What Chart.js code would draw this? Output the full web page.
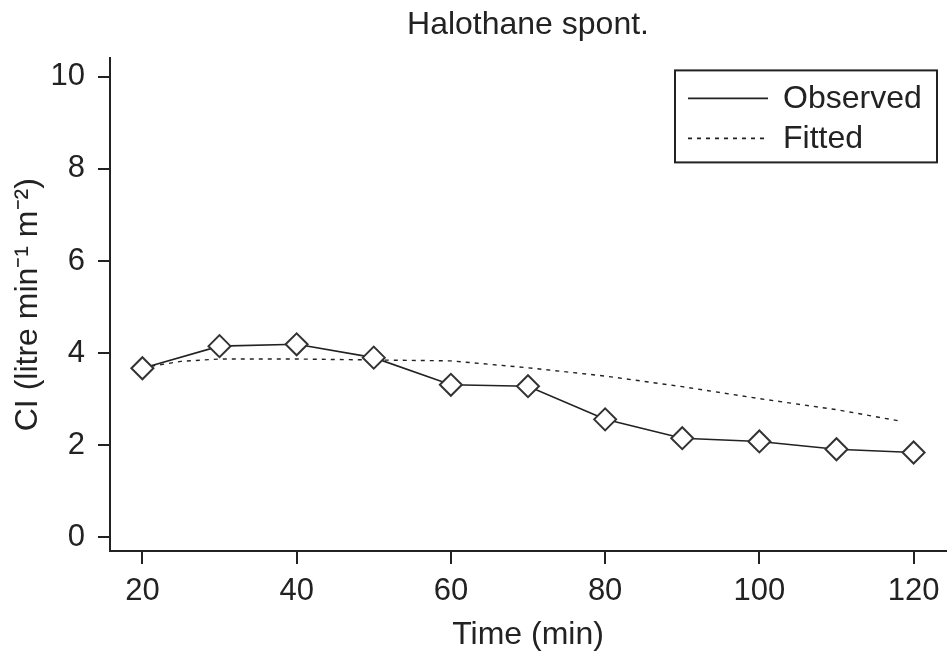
<!DOCTYPE html>
<html>
<head>
<meta charset="utf-8">
<script src="https://cdn.jsdelivr.net/npm/chart.js@4"></script>
<style>
  html, body { margin: 0; padding: 0; background: #fff; overflow: hidden; }
  #wrap { width: 952px; height: 657px; position: relative; }
  #cg { display: block; }
</style>
</head>
<body>
<div id="wrap"><canvas id="cg"></canvas></div>
<script>
// observed CI values
const obsTime = [20, 30, 40, 50, 60, 70, 80, 90, 100, 110, 120];
const obsCI = [3.67, 4.15, 4.19, 3.9, 3.31, 3.28, 2.56, 2.15, 2.08, 1.91, 1.84];

// fitted curve
const fitTime = [20, 25, 30, 40, 50, 60, 70, 80, 90, 100, 110, 118];
const fitCI = [3.68, 3.82, 3.87, 3.87, 3.85, 3.83, 3.68, 3.5, 3.27, 3.01, 2.77, 2.53];

const xTicks = [20, 40, 60, 80, 100, 120];
const yTicks = [0, 2, 4, 6, 8, 10];

const ink = '#222';
const font = 'Liberation Sans, Arial, sans-serif';

const toPts = (xs, ys) => xs.map((x, i) => ({ x: x, y: ys[i] }));

// legend in a box, top right of the plot
const boxLegend = {
  id: 'boxLegend',
  afterDraw(chart) {
    const ctx = chart.ctx;
    const a = chart.chartArea;
    const bx = a.right - 271, by = a.top + 12, bw = 262, bh = 92;
    ctx.save();
    ctx.strokeStyle = ink;
    ctx.lineWidth = 2;
    ctx.strokeRect(bx, by, bw, bh);
    const items = [
      { label: 'Observed', dash: [] },
      { label: 'Fitted', dash: [4, 5] }
    ];
    ctx.font = '32px ' + font;
    ctx.fillStyle = ink;
    ctx.textBaseline = 'middle';
    items.forEach((it, i) => {
      const y = by + 28 + i * 40;
      ctx.setLineDash(it.dash);
      ctx.lineWidth = 1.6;
      ctx.beginPath();
      ctx.moveTo(bx + 13, y);
      ctx.lineTo(bx + 93, y);
      ctx.stroke();
      ctx.setLineDash([]);
      ctx.fillText(it.label, bx + 108, y + 1);
    });
    ctx.restore();
  }
};

const setTicks = list => scale => { scale.ticks = list.map(v => ({ value: v })); };

new Chart(document.getElementById('cg'), {
  type: 'line',
  data: {
    datasets: [
      {
        label: 'Observed',
        data: toPts(obsTime, obsCI),
        borderColor: ink,
        borderWidth: 1.6,
        pointStyle: 'rectRot',
        pointRadius: 11,
        pointBorderWidth: 2,
        pointBorderColor: '#333',
        pointBackgroundColor: '#fff',
        tension: 0,
        order: 1
      },
      {
        label: 'Fitted',
        data: toPts(fitTime, fitCI),
        borderColor: ink,
        borderWidth: 1.4,
        borderDash: [4, 5],
        pointRadius: 0,
        tension: 0,
        order: 2
      }
    ]
  },
  options: {
    responsive: true,
    maintainAspectRatio: false,
    animation: false,
    layout: { autoPadding: false, padding: { left: 8, right: 6, top: 0, bottom: 3 } },
    plugins: {
      legend: { display: false },
      tooltip: { enabled: false },
      title: {
        display: true,
        fullSize: false,
        text: 'Halothane spont.',
        color: ink,
        font: { family: font, size: 32, weight: 'normal' },
        padding: { top: 6, bottom: 14 }
      }
    },
    scales: {
      x: {
        type: 'linear',
        min: 15.8,
        max: 124.2,
        afterBuildTicks: setTicks(xTicks),
        afterFit: s => { s.height = 103; s.paddingLeft = 0; s.paddingRight = 0; },
        grid: { drawOnChartArea: false, drawTicks: true, tickLength: 13, color: ink, lineWidth: 2 },
        border: { display: true, color: ink, width: 2 },
        ticks: { color: ink, padding: 9, maxRotation: 0, font: { family: font, size: 31 } },
        title: { display: true, text: 'Time (min)', color: ink, padding: { top: 0, bottom: 0 }, font: { family: font, size: 32 } }
      },
      y: {
        type: 'linear',
        min: -0.3,
        max: 10.4,
        afterBuildTicks: setTicks(yTicks),
        afterFit: s => { s.width = 102; },
        grid: { drawOnChartArea: false, drawTicks: true, tickLength: 12, color: ink, lineWidth: 2 },
        border: { display: true, color: ink, width: 2 },
        ticks: { color: ink, padding: 13, font: { family: font, size: 31 } },
        title: { display: true, text: 'CI (litre min⁻¹ m⁻²)', color: ink, padding: { top: 1, bottom: 0 }, font: { family: font, size: 32 } }
      }
    }
  },
  plugins: [boxLegend]
});
</script>
</body>
</html>
